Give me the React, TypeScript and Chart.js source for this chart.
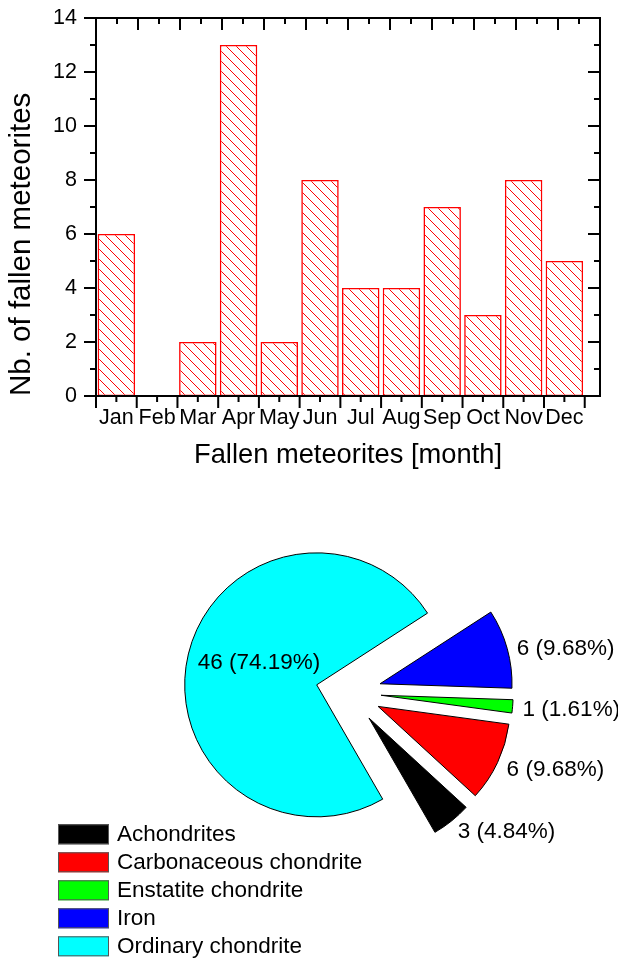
import React, { useEffect, useRef } from 'react';
import { Chart, registerables } from 'chart.js';

Chart.register(...registerables);

// ---------- data ----------
const months = ['Jan', 'Feb', 'Mar', 'Apr', 'May', 'Jun', 'Jul', 'Aug', 'Sep', 'Oct', 'Nov', 'Dec'];
const fallenCounts = [6, 0, 2, 13, 2, 8, 4, 4, 7, 3, 8, 5];
const yTickValues = [0, 2, 4, 6, 8, 10, 12, 14];

const classNames = ['Achondrites', 'Carbonaceous chondrite', 'Enstatite chondrite', 'Iron', 'Ordinary chondrite'];
const classCounts = [3, 6, 1, 6, 46];
const classColors = ['#000000', '#ff0000', '#00ff00', '#0000ff', '#00ffff'];

// ---------- style ----------
const FONT = "'Liberation Sans', Arial, Helvetica, sans-serif";
const EXPLODE = 32.7;

function makeHatch(): CanvasPattern | string {
  const s = 10;
  const c = document.createElement('canvas');
  c.width = s;
  c.height = s;
  const g = c.getContext('2d');
  if (!g) return '#fff';
  g.fillStyle = '#ffffff';
  g.fillRect(0, 0, s, s);
  g.strokeStyle = '#ff0000';
  g.lineWidth = 1;
  g.beginPath();
  g.moveTo(-1, -1);
  g.lineTo(s + 1, s + 1);
  g.moveTo(-1, s - 1);
  g.lineTo(1, s + 1);
  g.moveTo(s - 1, -1);
  g.lineTo(s + 1, 1);
  g.stroke();
  return g.createPattern(c, 'repeat') || '#fff';
}

const axesFrame = {
  id: 'axesFrame',
  afterDraw(chart: any) {
    const { ctx, chartArea: a } = chart;
    const x = chart.scales.x;
    const y = chart.scales.y;
    const MAJ = 12;
    const MIN = 6;
    ctx.save();
    ctx.strokeStyle = '#000';
    ctx.lineWidth = 2;
    ctx.strokeRect(a.left, a.top, a.right - a.left, a.bottom - a.top);
    ctx.beginPath();
    for (let v = y.min; v <= y.max; v += 1) {
      const py = y.getPixelForValue(v);
      const len = v % 2 === 0 ? MAJ : MIN;
      ctx.moveTo(a.left, py);
      ctx.lineTo(a.left - len, py);
      ctx.moveTo(a.right, py);
      ctx.lineTo(a.right - len, py);
    }
    for (let i = 0; i <= months.length; i++) {
      const px = x.getPixelForValue(i + 0.5);
      ctx.moveTo(px, a.bottom);
      ctx.lineTo(px, a.bottom + MAJ);
      if (i < months.length) {
        const pm = x.getPixelForValue(i + 1);
        ctx.moveTo(pm, a.bottom);
        ctx.lineTo(pm, a.bottom + MIN);
      }
    }
    const n = months.length * 2;
    for (let k = 0; k <= n; k++) {
      const px = a.left + ((a.right - a.left) * k) / n;
      const len = k % 2 === 0 ? MAJ : MIN;
      ctx.moveTo(px, a.top);
      ctx.lineTo(px, a.top + len);
    }
    ctx.stroke();
    ctx.restore();
  },
};

const pieOrder = classNames.map((_, i) => i).reverse();

const explodedPie = {
  id: 'explodedPie',
  beforeDatasetDraw(chart: any, args: any) {
    const ctx = chart.ctx;
    args.meta.data.forEach((arc: any) => {
      const mid = (arc.startAngle + arc.endAngle) / 2;
      ctx.save();
      ctx.translate(Math.cos(mid) * EXPLODE, Math.sin(mid) * EXPLODE);
      arc.draw(ctx);
      ctx.restore();
    });
    return false;
  },
  afterDatasetsDraw(chart: any) {
    const ctx = chart.ctx;
    const meta = chart.getDatasetMeta(0);
    const data = chart.data.datasets[0].data as number[];
    const total = data.reduce((s, v) => s + v, 0);
    ctx.save();
    ctx.font = `22.5px ${FONT}`;
    ctx.fillStyle = '#000';
    ctx.textBaseline = 'middle';
    meta.data.forEach((arc: any, i: number) => {
      const mid = (arc.startAngle + arc.endAngle) / 2;
      const cx = arc.x + Math.cos(mid) * EXPLODE;
      const cy = arc.y + Math.sin(mid) * EXPLODE;
      const v = data[i];
      const text = `${v} (${((v / total) * 100).toFixed(2)}%)`;
      if (v / total > 0.5) {
        ctx.textAlign = 'center';
        const r = arc.outerRadius * 0.45;
        ctx.fillText(text, cx + Math.cos(mid) * r, cy + Math.sin(mid) * r - 8);
      } else {
        ctx.textAlign = 'left';
        const r = arc.outerRadius + 10;
        ctx.fillText(text, cx + Math.cos(mid) * r, cy + Math.sin(mid) * r + 3);
      }
    });
    // legend
    const lx = 58;
    const ly = 344.3;
    const step = 28;
    ctx.textAlign = 'left';
    classNames.forEach((name, i) => {
      const top = ly + i * step;
      ctx.fillStyle = classColors[i];
      ctx.fillRect(lx, top, 51, 20);
      ctx.strokeStyle = '#555';
      ctx.lineWidth = 1;
      ctx.strokeRect(lx + 0.5, top + 0.5, 50, 19);
      ctx.fillStyle = '#000';
      ctx.fillText(name, lx + 59, top + 10.5);
    });
    ctx.restore();
  },
};

export default function App() {
  const barRef = useRef<HTMLCanvasElement>(null);
  const pieRef = useRef<HTMLCanvasElement>(null);

  useEffect(() => {
    const hatch = makeHatch();
    const bar = new Chart(barRef.current as HTMLCanvasElement, {
      type: 'bar',
      data: {
        datasets: [
          {
            label: 'Fallen meteorites',
            data: fallenCounts.map((v, i) => ({ x: i + 1, y: v })),
            backgroundColor: hatch as any,
            borderColor: '#ff0000',
            borderWidth: 1.6,
            borderSkipped: false,
            barPercentage: 0.92,
            categoryPercentage: 1,
          },
        ],
      },
      options: {
        responsive: false,
        animation: false,
        layout: { padding: { top: 18, right: 18, left: 0, bottom: 0 } },
        plugins: { legend: { display: false }, tooltip: { enabled: false } },
        scales: {
          x: {
            type: 'linear',
            offset: false,
            min: 0.5,
            max: 12.875,
            afterBuildTicks: (axis: any) => {
              axis.ticks = months.map((_, i) => ({ value: i + 1 }));
            },
            afterFit: (axis: any) => {
              axis.height = 84;
              axis.paddingLeft = 0;
              axis.paddingRight = 0;
            },
            ticks: {
              callback: (v: any) => months[Math.round(Number(v)) - 1] ?? '',
              padding: 9,
              maxRotation: 0,
              minRotation: 0,
              autoSkip: false,
              color: '#000',
              font: { family: FONT, size: 21.5 },
            },
            grid: { display: false, drawTicks: false, offset: false },
            border: { display: false },
            title: {
              display: true,
              text: 'Fallen meteorites [month]',
              color: '#000',
              font: { family: FONT, size: 27.3 },
              padding: { top: 0, bottom: 8 },
            },
          },
          y: {
            type: 'linear',
            min: 0,
            max: 14,
            afterBuildTicks: (axis: any) => {
              axis.ticks = yTickValues.map((v) => ({ value: v }));
            },
            afterFit: (axis: any) => {
              axis.width = 96;
              axis.paddingTop = 0;
              axis.paddingBottom = 0;
            },
            ticks: {
              padding: 19,
              color: '#000',
              font: { family: FONT, size: 21.5 },
            },
            grid: { display: false, drawTicks: false },
            border: { display: false },
            title: {
              display: true,
              text: 'Nb. of fallen meteorites',
              align: 'start',
              color: '#000',
              font: { family: FONT, size: 29.5 },
              padding: { top: 4, bottom: 0 },
            },
          },
        },
      },
      plugins: [axesFrame],
    } as any);

    const pie = new Chart(pieRef.current as HTMLCanvasElement, {
      type: 'pie',
      data: {
        labels: pieOrder.map((i) => classNames[i]),
        datasets: [
          {
            data: pieOrder.map((i) => classCounts[i]),
            backgroundColor: pieOrder.map((i) => classColors[i]),
            borderColor: '#000',
            borderWidth: 1,
          },
        ],
      },
      options: {
        responsive: false,
        animation: false,
        rotation: 150,
        radius: 132,
        layout: { padding: { left: 79, right: 0, top: 0, bottom: 55 } },
        plugins: { legend: { display: false }, tooltip: { enabled: false } },
      },
      plugins: [explodedPie],
    } as any);

    return () => {
      bar.destroy();
      pie.destroy();
    };
  }, []);

  return (
    <div style={{ position: 'absolute', left: 0, top: 0, width: 618, height: 960, background: '#fff' }}>
      <canvas
        ref={barRef}
        width={618}
        height={480}
        style={{ position: 'absolute', left: 0, top: 0, width: 618, height: 480, display: 'block' }}
      />
      <canvas
        ref={pieRef}
        width={618}
        height={480}
        style={{ position: 'absolute', left: 0, top: 480, width: 618, height: 480, display: 'block' }}
      />
    </div>
  );
}
